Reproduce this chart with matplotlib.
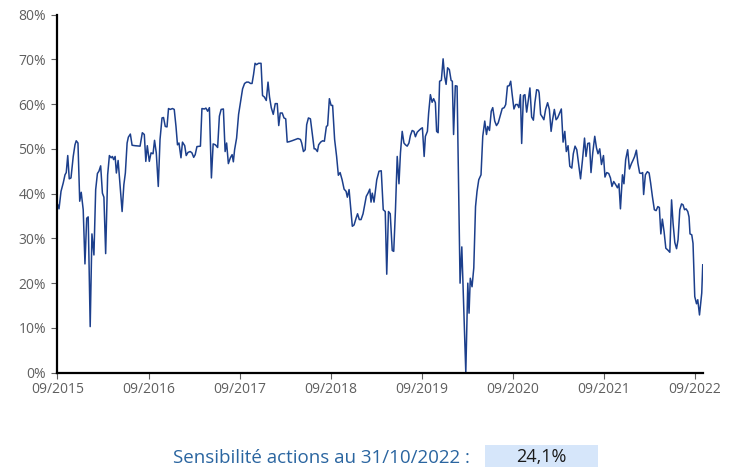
import pandas as pd
import matplotlib
matplotlib.use('Agg')
import matplotlib.pyplot as plt
import matplotlib.dates as mdates
from matplotlib.patches import Rectangle
from matplotlib.ticker import MultipleLocator, FuncFormatter

# equity sensitivity (%), weekly-ish readings
dates = [
    # 2015-2016
    "2015-10-02", "2015-10-07", "2015-10-15", "2015-10-24", "2015-10-31", "2015-11-05", "2015-11-11",
    "2015-11-17", "2015-11-24", "2015-12-03", "2015-12-10", "2015-12-15", "2015-12-22", "2015-12-29",
    "2016-01-04", "2016-01-12", "2016-01-19", "2016-01-26", "2016-02-01", "2016-02-09", "2016-02-16",
    "2016-02-24", "2016-03-02", "2016-03-09", "2016-03-15", "2016-03-22", "2016-03-29", "2016-04-04",
    "2016-04-11", "2016-04-19", "2016-04-26", "2016-05-03", "2016-05-08", "2016-05-13", "2016-05-19",
    "2016-05-24", "2016-05-31", "2016-06-08", "2016-06-16", "2016-06-23", "2016-06-29", "2016-07-06",
    "2016-07-11", "2016-07-19", "2016-07-26", "2016-08-07", "2016-08-27", "2016-09-05", "2016-09-13",
    "2016-09-19", "2016-09-25",
    # 2016-2017
    "2016-10-03", "2016-10-10", "2016-10-18", "2016-10-24", "2016-10-31", "2016-11-08", "2016-11-15",
    "2016-11-23", "2016-11-29", "2016-12-06", "2016-12-13", "2016-12-19", "2016-12-26", "2017-01-04",
    "2017-01-11", "2017-01-18", "2017-01-24", "2017-01-30", "2017-02-07", "2017-02-13", "2017-02-22",
    "2017-02-28", "2017-03-07", "2017-03-16", "2017-03-23", "2017-03-30", "2017-04-05", "2017-04-12",
    "2017-04-26", "2017-05-02", "2017-05-12", "2017-05-18", "2017-05-25", "2017-06-01", "2017-06-09",
    "2017-06-16", "2017-06-25", "2017-07-04", "2017-07-11", "2017-07-18", "2017-07-27", "2017-08-03",
    "2017-08-09", "2017-08-16", "2017-08-24", "2017-08-31", "2017-09-05", "2017-09-10", "2017-09-18",
    "2017-09-26",
    # 2017-2018
    "2017-10-04", "2017-10-12", "2017-10-20", "2017-10-28", "2017-11-05", "2017-11-13", "2017-11-19",
    "2017-11-25", "2017-12-01", "2017-12-07", "2017-12-15", "2017-12-25", "2017-12-31", "2018-01-07",
    "2018-01-15", "2018-01-22", "2018-01-28", "2018-02-04", "2018-02-12", "2018-02-20", "2018-02-28",
    "2018-03-06", "2018-03-12", "2018-03-20", "2018-03-27", "2018-04-03", "2018-04-09", "2018-04-17",
    "2018-04-28", "2018-05-12", "2018-05-22", "2018-06-01", "2018-06-06", "2018-06-13", "2018-06-20",
    "2018-06-26", "2018-07-03", "2018-07-11", "2018-07-18", "2018-07-26", "2018-07-31", "2018-08-08",
    "2018-08-13", "2018-08-21", "2018-08-29", "2018-09-05", "2018-09-13", "2018-09-18", "2018-09-25",
    # 2018-2019
    "2018-10-02", "2018-10-08", "2018-10-16", "2018-10-24", "2018-10-31", "2018-11-07", "2018-11-15",
    "2018-11-23", "2018-12-01", "2018-12-06", "2018-12-13", "2018-12-19", "2018-12-26", "2019-01-02",
    "2019-01-10", "2019-01-16", "2019-01-23", "2019-01-30", "2019-02-07", "2019-02-13", "2019-02-20",
    "2019-02-27", "2019-03-06", "2019-03-11", "2019-03-16", "2019-03-23", "2019-04-03", "2019-04-12",
    "2019-04-21", "2019-04-29", "2019-05-07", "2019-05-13", "2019-05-20", "2019-05-27", "2019-06-04",
    "2019-06-10", "2019-06-17", "2019-06-24", "2019-07-01", "2019-07-07", "2019-07-14", "2019-07-21",
    "2019-07-27", "2019-08-03", "2019-08-10", "2019-08-16", "2019-08-23", "2019-08-30", "2019-09-05",
    "2019-09-12", "2019-09-19", "2019-09-27",
    # 2019-2020
    "2019-10-03", "2019-10-10", "2019-10-15", "2019-10-23", "2019-10-28", "2019-11-04", "2019-11-11",
    "2019-11-17", "2019-11-24", "2019-11-29", "2019-12-05", "2019-12-11", "2019-12-18", "2019-12-25",
    "2019-12-31", "2020-01-06", "2020-01-12", "2020-01-19", "2020-01-26", "2020-01-31", "2020-02-05",
    "2020-02-12", "2020-02-19", "2020-03-02", "2020-03-09", "2020-03-25", "2020-04-02", "2020-04-07",
    "2020-04-12", "2020-04-19", "2020-04-26", "2020-05-03", "2020-05-09", "2020-05-16", "2020-05-25",
    "2020-06-01", "2020-06-09", "2020-06-16", "2020-06-21", "2020-06-28", "2020-07-05", "2020-07-11",
    "2020-07-19", "2020-07-26", "2020-08-02", "2020-08-10", "2020-08-18", "2020-08-26", "2020-09-01",
    "2020-09-08", "2020-09-15", "2020-09-21", "2020-09-27",
    # 2020-2021
    "2020-10-04", "2020-10-11", "2020-10-18", "2020-10-24", "2020-10-30", "2020-11-04", "2020-11-11",
    "2020-11-17", "2020-11-24", "2020-12-01", "2020-12-07", "2020-12-14", "2020-12-21", "2020-12-27",
    "2021-01-03", "2021-01-10", "2021-01-13", "2021-01-19", "2021-01-26", "2021-02-01", "2021-02-08",
    "2021-02-16", "2021-02-23", "2021-03-02", "2021-03-08", "2021-03-15", "2021-03-22", "2021-03-28",
    "2021-04-05", "2021-04-12", "2021-04-19", "2021-04-26", "2021-05-02", "2021-05-09", "2021-05-16",
    "2021-05-24", "2021-05-30", "2021-06-06", "2021-06-13", "2021-06-20", "2021-06-28", "2021-07-06",
    "2021-07-14", "2021-07-20", "2021-07-27", "2021-08-03", "2021-08-09", "2021-08-16", "2021-08-24",
    "2021-08-31", "2021-09-06", "2021-09-13", "2021-09-20", "2021-09-28",
    # 2021-2022
    "2021-10-04", "2021-10-11", "2021-10-19", "2021-10-26", "2021-11-01", "2021-11-08", "2021-11-16",
    "2021-11-23", "2021-11-29", "2021-12-05", "2021-12-13", "2021-12-19", "2021-12-26", "2022-01-03",
    "2022-01-10", "2022-01-18", "2022-01-24", "2022-01-31", "2022-02-07", "2022-02-13", "2022-02-20",
    "2022-02-27", "2022-03-04", "2022-03-08", "2022-03-15", "2022-03-23", "2022-03-30", "2022-04-05",
    "2022-04-12", "2022-04-20", "2022-04-27", "2022-05-04", "2022-05-10", "2022-05-16", "2022-05-22",
    "2022-05-29", "2022-06-05", "2022-06-13", "2022-06-21", "2022-06-28", "2022-07-04", "2022-07-11",
    "2022-07-18", "2022-07-24", "2022-07-31", "2022-08-07", "2022-08-13", "2022-08-19", "2022-08-25",
    "2022-09-01", "2022-09-06", "2022-09-10", "2022-09-17", "2022-09-22", "2022-09-29",
    # 2022
    "2022-10-06", "2022-10-11", "2022-10-18", "2022-10-27", "2022-10-31",
]

values = [
    # 2015-2016
    37.5, 36.6, 40.5, 42.4, 44.2, 44.7, 48.5,
    43.3, 43.5, 48.3, 50.9, 51.8, 51.3, 38.3,
    40.3, 36.4, 24.3, 34.5, 34.8, 10.3, 31.0,
    26.3, 40.9, 44.5, 45.0, 46.2, 40.1, 39.2,
    26.6, 44.2, 48.5, 48.0, 48.3, 47.6, 48.3,
    44.6, 47.4, 41.6, 36.0, 42.0, 44.6, 51.3,
    52.6, 53.3, 50.8, 50.7, 50.6, 53.6, 53.2,
    47.2, 50.7,
    # 2016-2017
    47.2, 49.1, 48.9, 51.9, 49.1, 41.6, 52.1,
    56.9, 57.0, 55.0, 54.9, 59.0, 58.8, 59.0,
    58.8, 55.0, 50.9, 51.3, 48.0, 51.5, 50.7,
    48.5, 49.2, 49.4, 49.1, 48.1, 48.7, 50.5,
    50.6, 59.0, 58.9, 59.1, 58.4, 59.2, 43.5,
    51.1, 50.9, 50.3, 57.3, 58.8, 58.9, 49.4,
    51.3, 46.7, 48.0, 48.7, 47.1, 49.8, 52.4,
    57.7,
    # 2017-2018
    60.6, 63.4, 64.6, 64.9, 64.9, 64.6, 64.6,
    66.6, 69.1, 68.8, 69.1, 69.1, 61.9, 61.6,
    60.8, 64.9, 61.6, 59.2, 57.7, 60.1, 60.1,
    55.2, 58.0, 58.0, 56.9, 56.7, 51.5, 51.6,
    51.8, 52.1, 52.3, 52.1, 51.3, 49.4, 49.8,
    55.4, 56.9, 56.7, 53.6, 50.0, 50.0, 49.4,
    50.9, 51.5, 51.8, 51.7, 55.0, 55.2, 61.2,
    # 2018-2019
    59.7, 59.7, 52.1, 48.3, 44.1, 44.7, 43.1,
    41.0, 40.5, 39.2, 40.9, 37.1, 32.7, 33.0,
    34.5, 35.5, 34.2, 34.2, 35.5, 37.3, 39.4,
    40.1, 41.0, 38.1, 40.1, 38.1, 43.1, 45.0,
    45.1, 36.4, 36.0, 22.0, 36.0, 35.5, 27.3,
    27.1, 36.4, 48.3, 42.2, 49.1, 53.9, 51.3,
    50.9, 50.6, 51.3, 53.0, 54.1, 53.9, 52.7,
    53.7, 54.1, 54.5,
    # 2019-2020
    54.7, 48.3, 52.8, 53.9, 58.0, 62.1, 60.4,
    61.2, 60.3, 53.9, 53.6, 65.1, 65.3, 70.1,
    66.2, 64.4, 68.1, 67.7, 65.3, 65.1, 53.2,
    64.1, 64.0, 20.0, 28.1, 0.0, 20.0, 13.3,
    21.1, 19.2, 23.4, 37.1, 40.5, 43.1, 44.2,
    52.8, 56.2, 53.2, 55.0, 54.1, 58.4, 59.2,
    56.2, 55.2, 55.8, 57.4, 59.0, 59.2, 59.9,
    64.0, 64.1, 65.1, 62.1,
    # 2020-2021
    58.9, 59.9, 59.9, 59.2, 62.1, 51.2, 61.9,
    62.1, 58.2, 61.0, 63.6, 57.1, 56.4, 60.3,
    63.2, 63.1, 62.5, 57.7, 57.1, 56.5, 58.8,
    60.3, 58.8, 53.9, 56.5, 58.8, 56.5, 56.9,
    58.0, 58.9, 51.5, 53.9, 49.4, 50.7, 46.1,
    45.7, 48.9, 50.6, 49.8, 46.7, 43.3, 47.6,
    52.4, 48.3, 51.2, 51.3, 44.7, 49.1, 52.8,
    50.2, 48.9, 50.0, 46.5, 48.5,
    # 2021-2022
    43.7, 44.7, 44.5, 43.5, 41.6, 42.7, 42.0,
    41.3, 42.2, 36.6, 44.2, 42.2, 47.6, 49.8,
    45.5, 46.7, 47.4, 48.3, 49.7, 46.8, 44.6,
    44.5, 44.7, 39.8, 44.2, 44.9, 44.6, 42.4,
    39.4, 36.4, 36.2, 37.1, 36.9, 31.0, 34.3,
    31.5, 27.8, 27.4, 26.9, 38.6, 33.4, 29.1,
    27.7, 29.7, 36.4, 37.7, 37.5, 36.4, 36.6,
    36.0, 34.8, 31.0, 30.8, 28.9, 17.0,
    # 2022
    15.4, 16.3, 12.9, 17.8, 24.1,
]

caption = "Sensibilité actions au 31/10/2022 :"
last_value = "24,1%"

LINE_COLOR = "#1C3F8C"
TICK_COLOR = "#5f5f5f"
FONT = ["Open Sans", "DejaVu Sans"]

plt.rcParams["font.family"] = FONT

x = pd.to_datetime(dates)

fig = plt.figure(figsize=(7.38, 4.68), dpi=100)
ax = fig.add_axes([0.0776, 0.2036, 0.8753, 0.7654])

ax.plot(x, values, color=LINE_COLOR, linewidth=1.1)

ax.set_ylim(0, 80)
ax.set_xlim(pd.Timestamp("2015-09-30"), pd.Timestamp("2022-11-02"))
ax.yaxis.set_major_locator(MultipleLocator(10))
ax.yaxis.set_major_formatter(FuncFormatter(lambda v, _: f"{v:.0f}%"))
ax.xaxis.set_major_locator(mdates.YearLocator(base=1, month=9, day=30))
ax.xaxis.set_major_formatter(mdates.DateFormatter("%m/%Y"))

for side in ["top", "right"]:
    ax.spines[side].set_visible(False)
for side in ["left", "bottom"]:
    ax.spines[side].set_linewidth(1.6)
    ax.spines[side].set_color("black")

ax.tick_params(axis="both", colors=TICK_COLOR, labelsize=10, length=4, width=0.8)
ax.tick_params(axis="x", pad=3)
ax.tick_params(axis="y", pad=4)
for lab in ax.get_xticklabels() + ax.get_yticklabels():
    lab.set_color(TICK_COLOR)

# caption + value box at the bottom
fig.text(0.235, 0.022, caption, color="#2A65A0", fontsize=13.5, va="center", ha="left")
fig.patches.append(Rectangle((0.657, 0.002), 0.153, 0.047, transform=fig.transFigure,
                             facecolor="#D6E6FA", edgecolor="none"))
fig.text(0.7337, 0.024, last_value, color="#1a1a1a", fontsize=13, va="center", ha="center")

plt.savefig("out.png", dpi=100)
plt.close()
